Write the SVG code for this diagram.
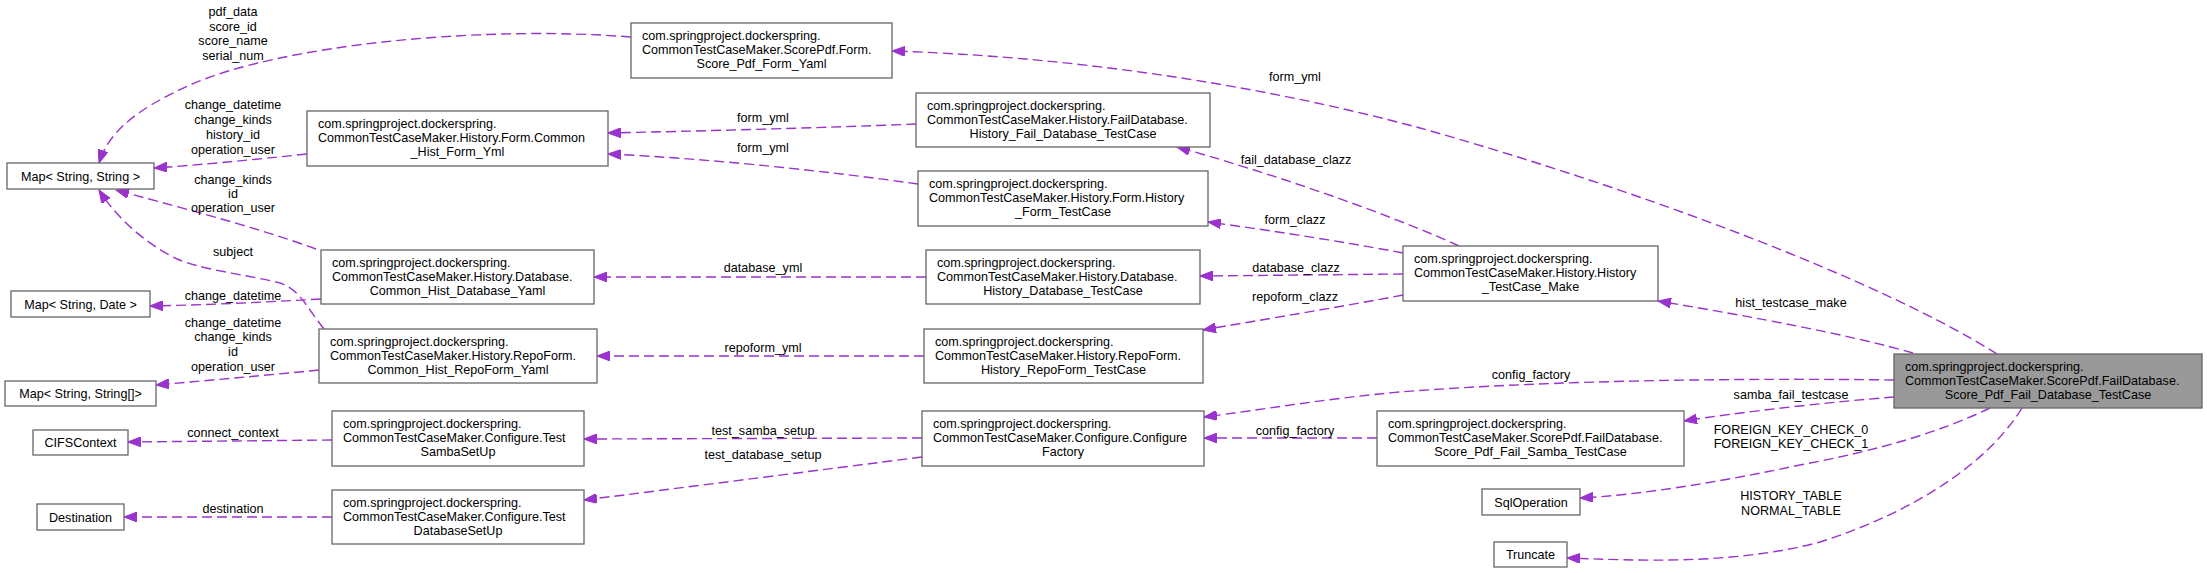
<svg xmlns="http://www.w3.org/2000/svg" width="2207" height="573" viewBox="0 0 2207 573">
<style>
.n rect{fill:#fff;stroke:#666;stroke-width:1.3}
.n.main rect{fill:#999}
text{font-family:"Liberation Sans",Arial,sans-serif;font-size:12.6px;fill:#000}
.c{text-anchor:middle}
.e path{fill:none;stroke:#9a32cd;stroke-width:1.4;stroke-dasharray:10,5;marker-end:url(#ah)}
.e text{text-anchor:middle}
</style>
<defs>
<marker id="ah" markerUnits="userSpaceOnUse" markerWidth="14" markerHeight="10" refX="13" refY="5" orient="auto">
<path d="M0,0 L13,5 L0,10 z" fill="#9a32cd" stroke="#9a32cd" stroke-width="1"/>
</marker>
</defs>
<rect width="2207" height="573" fill="#fff"/>
<g id="connectors" class="e">
<path d="M1997,354 C1880,280 1640,190 1420,128 C1250,82 1060,56 892,51"/>
<text x="1295" y="81">form_yml</text>
<path d="M1913,353 C1850,335 1760,318 1658,301"/>
<text x="1791" y="307">hist_testcase_make</text>
<path d="M1894,380 C1750,378 1550,380 1400,392 C1330,398 1260,410 1204,417"/>
<text x="1531" y="379">config_factory</text>
<path d="M1894,397 C1830,402 1740,412 1684,421"/>
<text x="1791" y="399">samba_fail_testcase</text>
<path d="M1990,408 C1940,432 1880,450 1800,465 C1720,482 1640,495 1580,498"/>
<text x="1791" y="434">FOREIGN_KEY_CHECK_0</text>
<text x="1791" y="448">FOREIGN_KEY_CHECK_1</text>
<path d="M2022,408 C1990,460 1920,510 1820,542 C1730,566 1630,560 1567,558"/>
<text x="1791" y="500">HISTORY_TABLE</text>
<text x="1791" y="515">NORMAL_TABLE</text>
<path d="M1459,246 C1380,210 1260,170 1177,147"/>
<text x="1296" y="164">fail_database_clazz</text>
<path d="M1403,253 C1340,241 1260,229 1208,222"/>
<text x="1295" y="224">form_clazz</text>
<path d="M1403,274 L1200,276"/>
<text x="1296" y="272">database_clazz</text>
<path d="M1403,295 C1340,307 1260,320 1203,330"/>
<text x="1295" y="301">repoform_clazz</text>
<path d="M1377,438 L1204,438"/>
<text x="1295" y="435">config_factory</text>
<path d="M916,124 C820,128 700,131 608,133"/>
<text x="763" y="122">form_yml</text>
<path d="M918,184 C820,170 700,158 608,154"/>
<text x="763" y="152">form_yml</text>
<path d="M926,277 L594,277"/>
<text x="763" y="272">database_yml</text>
<path d="M924,356 L597,356"/>
<text x="763" y="352">repoform_yml</text>
<path d="M922,438 L584,439"/>
<text x="763" y="435">test_samba_setup</text>
<path d="M922,457 C820,470 680,488 584,500"/>
<text x="763" y="459">test_database_setup</text>
<path d="M631,37 C480,25 280,45 190,85 C130,112 108,135 99,163"/>
<text x="233" y="16">pdf_data</text>
<text x="233" y="30.5">score_id</text>
<text x="233" y="45">score_name</text>
<text x="233" y="59.5">serial_num</text>
<path d="M307,154 C250,160 200,165 154,168"/>
<text x="233" y="108.5">change_datetime</text>
<text x="233" y="123.5">change_kinds</text>
<text x="233" y="138.5">history_id</text>
<text x="233" y="153.5">operation_user</text>
<path d="M316,249 C250,225 170,205 116,190"/>
<text x="233" y="183.5">change_kinds</text>
<text x="233" y="197.5">id</text>
<text x="233" y="212">operation_user</text>
<path d="M324,329 C305,305 300,290 280,283 C250,275 200,270 175,258 C140,240 115,215 99,190"/>
<text x="233" y="256">subject</text>
<path d="M321,299 C250,303 200,305 150,306"/>
<text x="233" y="299.5">change_datetime</text>
<path d="M319,370 C260,376 200,381 156,385"/>
<text x="233" y="327">change_datetime</text>
<text x="233" y="341">change_kinds</text>
<text x="233" y="355.5">id</text>
<text x="233" y="371">operation_user</text>
<path d="M332,440 L128,442"/>
<text x="233" y="436.5">connect_context</text>
<path d="M332,517 L124,517"/>
<text x="233" y="512.5">destination</text>
</g>
<g id="node_main" class="n main">
<rect x="1894" y="354" width="308" height="54"/>
<text x="1905" y="371">com.springproject.dockerspring.</text>
<text x="1905" y="385">CommonTestCaseMaker.ScorePdf.FailDatabase.</text>
<text x="2048" y="399" class="c">Score_Pdf_Fail_Database_TestCase</text>
</g>
<g id="node_make" class="n">
<rect x="1403" y="246" width="255" height="55"/>
<text x="1414" y="263">com.springproject.dockerspring.</text>
<text x="1414" y="277">CommonTestCaseMaker.History.History</text>
<text x="1530.5" y="291" class="c">_TestCase_Make</text>
</g>
<g id="node_scoreform" class="n">
<rect x="631" y="23" width="261" height="55"/>
<text x="642" y="40">com.springproject.dockerspring.</text>
<text x="642" y="54">CommonTestCaseMaker.ScorePdf.Form.</text>
<text x="761.5" y="68" class="c">Score_Pdf_Form_Yaml</text>
</g>
<g id="node_faildb" class="n">
<rect x="916" y="93" width="294" height="54"/>
<text x="927" y="110">com.springproject.dockerspring.</text>
<text x="927" y="124">CommonTestCaseMaker.History.FailDatabase.</text>
<text x="1063" y="138" class="c">History_Fail_Database_TestCase</text>
</g>
<g id="node_histform" class="n">
<rect x="918" y="171" width="290" height="55"/>
<text x="929" y="188">com.springproject.dockerspring.</text>
<text x="929" y="202">CommonTestCaseMaker.History.Form.History</text>
<text x="1063" y="216" class="c">_Form_TestCase</text>
</g>
<g id="node_histdb" class="n">
<rect x="926" y="250" width="274" height="54"/>
<text x="937" y="267">com.springproject.dockerspring.</text>
<text x="937" y="281">CommonTestCaseMaker.History.Database.</text>
<text x="1063" y="295" class="c">History_Database_TestCase</text>
</g>
<g id="node_histrepo" class="n">
<rect x="924" y="329" width="279" height="54"/>
<text x="935" y="346">com.springproject.dockerspring.</text>
<text x="935" y="360">CommonTestCaseMaker.History.RepoForm.</text>
<text x="1063.5" y="374" class="c">History_RepoForm_TestCase</text>
</g>
<g id="node_config" class="n">
<rect x="922" y="411" width="282" height="55"/>
<text x="933" y="428">com.springproject.dockerspring.</text>
<text x="933" y="442">CommonTestCaseMaker.Configure.Configure</text>
<text x="1063" y="456" class="c">Factory</text>
</g>
<g id="node_sambafail" class="n">
<rect x="1377" y="411" width="307" height="55"/>
<text x="1388" y="428">com.springproject.dockerspring.</text>
<text x="1388" y="442">CommonTestCaseMaker.ScorePdf.FailDatabase.</text>
<text x="1530.5" y="456" class="c">Score_Pdf_Fail_Samba_TestCase</text>
</g>
<g id="node_sql" class="n">
<rect x="1482" y="489" width="98" height="26"/>
<text x="1531" y="506.5" class="c">SqlOperation</text>
</g>
<g id="node_truncate" class="n">
<rect x="1494" y="542" width="73" height="25"/>
<text x="1530.5" y="559" class="c">Truncate</text>
</g>
<g id="node_commonform" class="n">
<rect x="307" y="111" width="301" height="55"/>
<text x="318" y="128">com.springproject.dockerspring.</text>
<text x="318" y="142">CommonTestCaseMaker.History.Form.Common</text>
<text x="457.5" y="156" class="c">_Hist_Form_Yml</text>
</g>
<g id="node_commondb" class="n">
<rect x="321" y="250" width="273" height="54"/>
<text x="332" y="267">com.springproject.dockerspring.</text>
<text x="332" y="281">CommonTestCaseMaker.History.Database.</text>
<text x="457.5" y="295" class="c">Common_Hist_Database_Yaml</text>
</g>
<g id="node_commonrepo" class="n">
<rect x="319" y="329" width="278" height="54"/>
<text x="330" y="346">com.springproject.dockerspring.</text>
<text x="330" y="360">CommonTestCaseMaker.History.RepoForm.</text>
<text x="458" y="374" class="c">Common_Hist_RepoForm_Yaml</text>
</g>
<g id="node_sambasetup" class="n">
<rect x="332" y="411" width="252" height="55"/>
<text x="343" y="428">com.springproject.dockerspring.</text>
<text x="343" y="442">CommonTestCaseMaker.Configure.Test</text>
<text x="458" y="456" class="c">SambaSetUp</text>
</g>
<g id="node_dbsetup" class="n">
<rect x="332" y="490" width="252" height="54"/>
<text x="343" y="507">com.springproject.dockerspring.</text>
<text x="343" y="521">CommonTestCaseMaker.Configure.Test</text>
<text x="458" y="535" class="c">DatabaseSetUp</text>
</g>
<g id="node_map_ss" class="n">
<rect x="7" y="163" width="147" height="26"/>
<text x="80.5" y="180.5" class="c">Map&lt; String, String &gt;</text>
</g>
<g id="node_map_sd" class="n">
<rect x="11" y="291" width="139" height="26"/>
<text x="80.5" y="308.5" class="c">Map&lt; String, Date &gt;</text>
</g>
<g id="node_map_sa" class="n">
<rect x="5" y="381" width="151" height="25"/>
<text x="80.5" y="398" class="c">Map&lt; String, String[]&gt;</text>
</g>
<g id="node_cifs" class="n">
<rect x="33" y="430" width="95" height="25"/>
<text x="80.5" y="447" class="c">CIFSContext</text>
</g>
<g id="node_destination" class="n">
<rect x="37" y="504" width="87" height="26"/>
<text x="80.5" y="521.5" class="c">Destination</text>
</g>
</svg>
